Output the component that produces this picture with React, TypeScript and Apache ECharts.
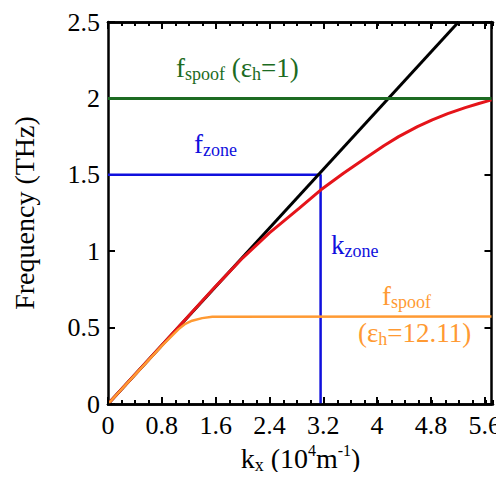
import React, { useEffect, useRef, useState } from "react";
import * as echarts from "echarts";

// Light line (black)
const kLight = [0, 5.21];
const fLight = [0, 2.5];
// Spoof plasmon dispersion, eps_h = 1 (red)
const kRed = [0, 0.8, 1.2, 1.6, 2.0, 2.4, 2.84, 3.16, 3.5, 3.83, 4.1, 4.32, 4.6, 4.82, 5.05, 5.31, 5.5, 5.7];
const fRed = [0, 0.385, 0.578, 0.77, 0.955, 1.12, 1.28, 1.4, 1.51, 1.61, 1.69, 1.75, 1.815, 1.86, 1.9, 1.94, 1.965, 1.99];
// Spoof plasmon dispersion, eps_h = 12.11 (orange)
const kOrange = [0, 0.4, 0.8, 1.05, 1.15, 1.25, 1.4, 1.55, 5.7];
const fOrange = [0, 0.19, 0.38, 0.49, 0.525, 0.545, 0.562, 0.571, 0.573];
// Reference levels
const fSpoofVacuum = 2.0;
const fZone = 1.5;
const kZone = 3.16;
// Axes
const xMin = 0;
const xMax = 5.7;
const xMajor = 0.8;
const xMinor = 0.2;
const yMin = 0;
const yMax = 2.5;
const yMajor = 0.5;

const FONT = "Liberation Serif";
const GREEN = "#1c6b22";
const BLUE = "#1010dd";
const RED = "#e5141a";
const ORANGE = "#ff9a33";

const W = 504;
const H = 480;
const GRID = { left: 108, right: 11, top: 22, bottom: 76 };

const zip = (a: number[], b: number[]) => a.map((v, i) => [v, b[i]]);

function annot(text: string, x: number, y: number, color: string) {
  return {
    type: "text",
    x,
    y,
    style: {
      text,
      fill: color,
      align: "left",
      verticalAlign: "top",
      fontFamily: FONT,
      fontSize: 27,
      rich: {
        m: { fontSize: 27, lineHeight: 30, fontFamily: FONT, fill: color },
        s: { fontSize: 18, lineHeight: 16, verticalAlign: "bottom", fontFamily: FONT, fill: color },
      },
    },
  };
}

function mainOption() {
  const axisLine = { show: true, onZero: false, lineStyle: { color: "#000", width: 2.5 } };
  const tick = { show: true, inside: true, length: 7, lineStyle: { color: "#000", width: 2 } };
  const line = (data: number[][], color: string, width: number) => ({
    type: "line",
    data,
    showSymbol: false,
    lineStyle: { color, width },
  });
  return {
    animation: false,
    grid: GRID,
    xAxis: [
      {
        type: "value", position: "bottom", min: xMin, max: xMax, interval: xMajor,
        splitLine: { show: false }, axisTick: tick, axisLine,
        axisLabel: { fontSize: 26, fontFamily: FONT, color: "#000", showMaxLabel: false },
      },
      {
        type: "value", position: "top", min: xMin, max: xMax, interval: xMajor,
        splitLine: { show: false }, axisTick: tick, axisLine, axisLabel: { show: false },
      },
    ],
    yAxis: [
      {
        type: "value", position: "left", min: yMin, max: yMax, interval: yMajor,
        splitLine: { show: false }, axisTick: tick, axisLine,
        axisLabel: { fontSize: 26, fontFamily: FONT, color: "#000" },
      },
      {
        type: "value", position: "right", min: yMin, max: yMax, interval: yMajor,
        splitLine: { show: false }, axisTick: tick, axisLine, axisLabel: { show: false },
      },
    ],
    series: [
      line(zip([xMin, kZone, kZone], [fZone, fZone, yMin]), BLUE, 2.5),
      line(zip(kLight, fLight), "#000", 3),
      line(zip(kRed, fRed), RED, 3),
      line(zip(kOrange, fOrange), ORANGE, 2.5),
      line(zip([xMin, xMax], [fSpoofVacuum, fSpoofVacuum]), GREEN, 3),
    ],
  };
}

function minorOption() {
  const axisLine = { show: true, onZero: false, lineStyle: { color: "#000", width: 2.5 } };
  const tick = { show: true, inside: true, length: 4, lineStyle: { color: "#000", width: 2 } };
  return {
    animation: false,
    grid: GRID,
    xAxis: [
      {
        type: "value", position: "bottom", min: xMin, max: xMax, interval: xMinor,
        splitLine: { show: false }, axisTick: tick, axisLine, axisLabel: { show: false },
      },
      {
        type: "value", position: "top", min: xMin, max: xMax, interval: xMinor,
        splitLine: { show: false }, axisTick: tick, axisLine, axisLabel: { show: false },
      },
    ],
    yAxis: [{ type: "value", min: yMin, max: yMax, show: false, splitLine: { show: false } }],
    series: [{ type: "line", data: [], showSymbol: false }],
  };
}

function textOption() {
  return {
    animation: false,
    graphic: [
      annot("{m|f}{s|spoof}{m| (ε}{s|h}{m|=1)}", 176, 52.5, GREEN),
      annot("{m|f}{s|zone}", 194, 128.5, BLUE),
      annot("{m|k}{s|zone}", 331, 229.5, BLUE),
      annot("{m|f}{s|spoof}", 382, 280.5, ORANGE),
      annot("{m|(ε}{s|h}{m|=12.11)}", 358, 317.5, ORANGE),
      {
        type: "text",
        x: 300.5,
        y: 442,
        style: {
          text: "{m|k}{s|x}{m| (10}{p|4}{m|m}{p|-1}{m|)}",
          fill: "#000",
          align: "center",
          verticalAlign: "top",
          fontFamily: FONT,
          fontSize: 28,
          rich: {
            m: { fontSize: 28, lineHeight: 32, fontFamily: FONT, fill: "#000" },
            s: { fontSize: 18, lineHeight: 18, verticalAlign: "bottom", fontFamily: FONT, fill: "#000" },
            p: { fontSize: 16, lineHeight: 16, verticalAlign: "top", fontFamily: FONT, fill: "#000" },
          },
        },
      },
      {
        type: "text",
        x: 24,
        y: 213,
        rotation: Math.PI / 2,
        style: {
          text: "Frequency (THz)",
          fill: "#000",
          align: "center",
          verticalAlign: "middle",
          fontFamily: FONT,
          fontSize: 28,
        },
      },
    ],
  };
}

function Layer({ make, onError }: { make: () => any; onError: (s: string) => void }) {
  const ref = useRef<HTMLDivElement>(null);
  useEffect(() => {
    if (!ref.current) return;
    const chart = echarts.init(ref.current, undefined, { renderer: "svg" });
    try {
      chart.setOption(make());
    } catch (e: any) {
      onError(String(e && e.message ? e.message : e));
    }
    return () => chart.dispose();
  }, []);
  return <div ref={ref} style={{ position: "absolute", left: 0, top: 0, width: W, height: H }} />;
}

export default function App() {
  const [err, setErr] = useState<string>("");
  const onError = (s: string) => setErr((p) => p + " " + s);
  return (
    <div style={{ position: "relative", margin: -8, width: W, height: H, overflow: "hidden" }}>
      <Layer make={mainOption} onError={onError} />
      <Layer make={minorOption} onError={onError} />
      <Layer make={textOption} onError={onError} />
      {err ? (
        <div style={{ position: "absolute", left: 0, bottom: 0, fontSize: 9, color: "#888" }}>{err}</div>
      ) : null}
    </div>
  );
}
